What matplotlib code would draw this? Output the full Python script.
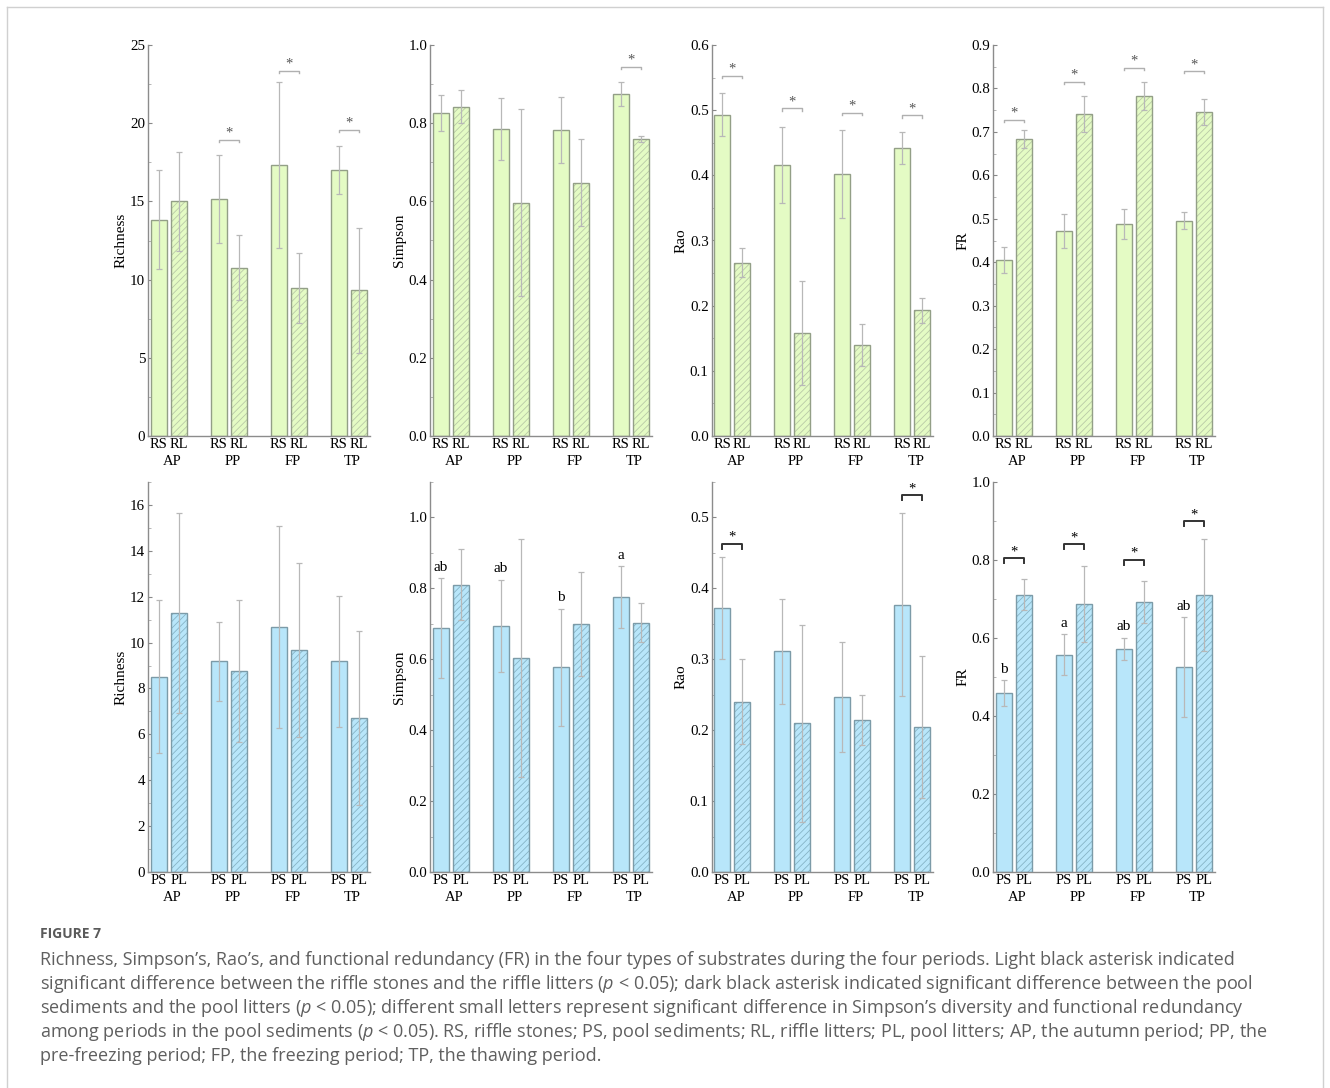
import numpy as np
import matplotlib
matplotlib.use("Agg")
import matplotlib.pyplot as plt
from matplotlib.lines import Line2D
from matplotlib.ticker import MultipleLocator, FormatStrFormatter

plt.rcParams['font.family'] = ['Liberation Serif', 'DejaVu Serif']
plt.rcParams['hatch.linewidth'] = 0.6
plt.rcParams['mathtext.fontset'] = 'custom'
plt.rcParams['mathtext.it'] = 'Open Sans:italic'
plt.rcParams['mathtext.rm'] = 'Open Sans'

periods = ["AP", "PP", "FP", "TP"]
metrics = ["Richness", "Simpson", "Rao", "FR"]

# riffle stones (RS) / riffle litters (RL): rows = Richness, Simpson, Rao, FR
riffle_stones = [
    [13.83, 15.16, 17.32, 17.00],
    [0.826, 0.785, 0.782, 0.875],
    [0.493, 0.416, 0.402, 0.442],
    [0.405, 0.471, 0.488, 0.496],
]
riffle_stones_err = [
    [3.18, 2.80, 5.30, 1.54],
    [0.045, 0.080, 0.085, 0.031],
    [0.033, 0.058, 0.067, 0.024],
    [0.030, 0.039, 0.034, 0.019],
]
riffle_litters = [
    [15.01, 10.75, 9.49, 9.31],
    [0.842, 0.597, 0.648, 0.759],
    [0.266, 0.158, 0.140, 0.193],
    [0.684, 0.741, 0.783, 0.746],
]
riffle_litters_err = [
    [3.16, 2.07, 2.24, 4.02],
    [0.042, 0.240, 0.111, 0.008],
    [0.022, 0.080, 0.032, 0.019],
    [0.021, 0.042, 0.032, 0.029],
]

# pool sediments (PS) / pool litters (PL)
pool_sediments = [
    [8.51, 9.18, 10.68, 9.18],
    [0.688, 0.695, 0.577, 0.776],
    [0.372, 0.311, 0.247, 0.377],
    [0.459, 0.557, 0.572, 0.526],
]
pool_sediments_err = [
    [3.34, 1.71, 4.40, 2.84],
    [0.142, 0.130, 0.166, 0.087],
    [0.072, 0.074, 0.078, 0.129],
    [0.033, 0.052, 0.029, 0.128],
]
pool_litters = [
    [11.29, 8.76, 9.67, 6.70],
    [0.810, 0.604, 0.700, 0.703],
    [0.240, 0.210, 0.214, 0.204],
    [0.711, 0.687, 0.693, 0.711],
]
pool_litters_err = [
    [4.36, 3.10, 3.78, 3.80],
    [0.100, 0.335, 0.146, 0.055],
    [0.060, 0.139, 0.035, 0.100],
    [0.040, 0.098, 0.054, 0.144],
]

# significance bracket heights (None = not significant)
riffle_sig = [
    [None, 18.93, 23.36, 19.57],
    [None, None, None, 0.944],
    [0.553, 0.503, 0.496, 0.492],
    [0.728, 0.815, 0.847, 0.840],
]
pool_sig = [
    [None, None, None, None],
    [None, None, None, None],
    [0.4625, None, None, 0.531],
    [0.805, 0.840, 0.800, 0.899],
]
pool_letters = [
    [None, None, None, None],
    ["ab", "ab", "b", "a"],
    [None, None, None, None],
    ["b", "a", "ab", "ab"],
]

top_ylim = [25, 1.0, 0.6, 0.9]
top_major = [5, 0.2, 0.1, 0.1]
bot_ylim = [17, 1.1, 0.55, 1.0]
bot_major = [2, 0.2, 0.1, 0.2]

green = "#e4fbc4"
green_edge = "#939f87"
green_hatch = "#b9c9a6"
blue = "#b8e6fa"
blue_edge = "#7c9ba8"
blue_hatch = "#86b3c6"

fig = plt.figure(figsize=(13.3, 10.88), dpi=100)

lefts = [148, 430, 711.5, 993]
W, H = 1330, 1088


def panel(ax, m1, e1, m2, e2, lab1, lab2, fill, edge, hatchc, ylim, major,
          sig, sig_dark, letters, ylabel):
    x = np.arange(len(periods))
    off = 10 / 60
    bw = 16 / 60
    ax.bar(x - off, m1, bw, color=fill, edgecolor=edge, linewidth=1, zorder=2)
    ax.bar(x + off, m2, bw, color=fill, edgecolor=hatchc, linewidth=0,
           hatch='/////', zorder=2)
    ax.bar(x + off, m2, bw, fill=False, edgecolor=edge, linewidth=1, zorder=3)
    ax.errorbar(x - off, m1, yerr=e1, fmt='none', ecolor='#b8b8b8',
                elinewidth=0.9, capsize=2.2, capthick=0.9, zorder=4)
    ax.errorbar(x + off, m2, yerr=e2, fmt='none', ecolor='#b8b8b8',
                elinewidth=0.9, capsize=2.2, capthick=0.9, zorder=4)

    ax.set_xlim(-0.345, 3.355)
    ax.set_ylim(0, ylim)
    ax.yaxis.set_major_locator(MultipleLocator(major))
    ax.yaxis.set_minor_locator(MultipleLocator(major / 2))
    if major >= 1:
        ax.yaxis.set_major_formatter(FormatStrFormatter('%d'))
    else:
        ax.yaxis.set_major_formatter(FormatStrFormatter('%.1f'))
    ax.set_xticks(np.concatenate([x - off, x + off]))
    ax.set_xticklabels([lab1] * 4 + [lab2] * 4)
    ax.tick_params(axis='x', length=0, pad=1.5, labelsize=10.5)
    ax.tick_params(axis='y', which='major', direction='in', length=3,
                   width=0.8, color='#888888', pad=2, labelsize=10.8)
    ax.tick_params(axis='y', which='minor', direction='in', length=1.8,
                   width=0.6, color='#aaaaaa')
    for s in ['top', 'right']:
        ax.spines[s].set_visible(False)
    for s in ['left', 'bottom']:
        ax.spines[s].set_color('#8c8c8c')
        ax.spines[s].set_linewidth(1)
    ax.set_ylabel(ylabel, fontsize=11, labelpad=1.5)

    for i, p in enumerate(periods):
        ax.annotate(p, xy=(i + 0.06, 0), xycoords=('data', 'axes fraction'),
                    xytext=(0, -18.5), textcoords='offset points',
                    ha='center', va='center', fontsize=10.5)

    for i, y in enumerate(sig):
        if y is None:
            continue
        if sig_dark:
            col, lw, tick, scol = '#333333', 1.4, 0.012, 'black'
        else:
            col, lw, tick, scol = '#b0b0b0', 1.0, 0.006, '#555555'
        d = tick * ylim
        ax.plot([i - off, i - off, i + off, i + off], [y - d, y, y, y - d],
                color=col, lw=lw, zorder=5, clip_on=False)
        ax.annotate('*', xy=(i, y), xytext=(0, 0), textcoords='offset points',
                    ha='center', va='bottom', fontsize=10.5, color=scol)

    for i, t in enumerate(letters):
        if t is None:
            continue
        ax.annotate(t, xy=(i - off, m1[i] + e1[i]), xytext=(0, 3),
                    textcoords='offset points', ha='center', va='bottom',
                    fontsize=11)


for k in range(4):
    ax = fig.add_axes([lefts[k] / W, 1 - 436 / H, 222 / W, 391 / H])
    panel(ax, riffle_stones[k], riffle_stones_err[k], riffle_litters[k],
          riffle_litters_err[k], "RS", "RL", green, green_edge, green_hatch,
          top_ylim[k], top_major[k], riffle_sig[k], False,
          [None] * 4, metrics[k])
    ax = fig.add_axes([lefts[k] / W, 1 - 872 / H, 222 / W, 390 / H])
    panel(ax, pool_sediments[k], pool_sediments_err[k], pool_litters[k],
          pool_litters_err[k], "PS", "PL", blue, blue_edge, blue_hatch,
          bot_ylim[k], bot_major[k], pool_sig[k], True,
          pool_letters[k], metrics[k])

# frame around the figure panel
fc = '#d0d0d0'
fig.add_artist(Line2D([7 / W, 7 / W], [0, 1 - 7 / H], color=fc, lw=1))
fig.add_artist(Line2D([7 / W, 1323 / W], [1 - 7 / H, 1 - 7 / H], color=fc, lw=1))
fig.add_artist(Line2D([1323 / W, 1323 / W], [0, 1 - 7 / H], color=fc, lw=1))

fig.text(40 / W, 1 - 934 / H, "FIGURE 7", family='Open Sans', fontsize=10,
         weight='bold', color='#5a5a5a', va='center')

caption = [
    "Richness, Simpson\u2019s, Rao\u2019s, and functional redundancy (FR) in the four types of substrates during the four periods. Light black asterisk indicated",
    "significant difference between the riffle stones and the riffle litters ($p$ < 0.05); dark black asterisk indicated significant difference between the pool",
    "sediments and the pool litters ($p$ < 0.05); different small letters represent significant difference in Simpson\u2019s diversity and functional redundancy",
    "among periods in the pool sediments ($p$ < 0.05). RS, riffle stones; PS, pool sediments; RL, riffle litters; PL, pool litters; AP, the autumn period; PP, the",
    "pre-freezing period; FP, the freezing period; TP, the thawing period.",
]
for j, line in enumerate(caption):
    fig.text(40 / W, 1 - (960 + 24 * j) / H, line, family='Open Sans',
             fontsize=13, color='#5f5f5f', va='center')

fig.savefig("out.png", dpi=100)
